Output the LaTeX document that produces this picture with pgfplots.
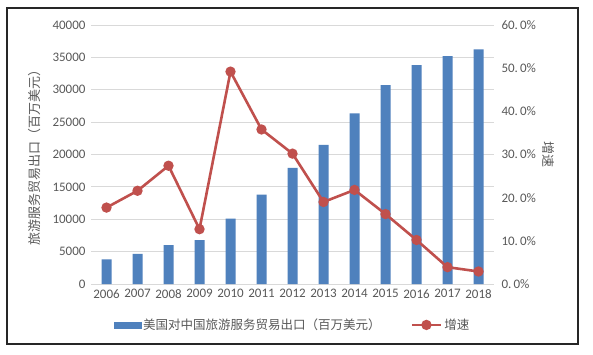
\documentclass[border=0pt]{standalone}
\usepackage{pgfplots}
\pgfplotsset{compat=1.18}
\usepackage{fontspec}
\setmainfont{Carlito}
\newfontfamily\cjk{Noto Sans CJK SC}
\definecolor{barblue}{HTML}{4F81BD}
\definecolor{linered}{HTML}{C0504D}
\definecolor{txtgray}{HTML}{595959}
\definecolor{gridgray}{HTML}{D9D9D9}
\pgfplotsset{
  mylineleg/.style={legend image code/.code={\draw[mark repeat=2,mark phase=2,##1] plot coordinates {(0pt,0pt) (14.5pt,0pt) (29pt,0pt)};}},
  mybarleg/.style={legend image code/.code={\fill[barblue] (0pt,-3pt) rectangle (27pt,3pt);}},
}
\begin{document}
\begin{tikzpicture}
\path[use as bounding box] (0pt,0pt) rectangle (593pt,354pt);
\fill[white] (0pt,0pt) rectangle (593pt,354pt);
\draw[black!85, line width=1.4pt] (7pt,10pt) rectangle (578pt,346pt);
\begin{axis}[
  at={(91pt,70pt)}, anchor=south west,
  scale only axis, width=403pt, height=259pt,
  xmin=-0.5, xmax=12.5, ymin=0, ymax=40000,
  xtick=data,
  xticklabels={2006,2007,2008,2009,2010,2011,2012,2013,2014,2015,2016,2017,2018},
  ytick={0,5000,...,40000},
  scaled y ticks=false,
  /pgf/number format/set thousands separator={},
  /pgf/number format/assume math mode=true,
  tick label style={font=\fontsize{13}{15}\selectfont, text=txtgray},
  axis y line*=left, axis x line*=bottom,
  y axis line style={draw=none},
  x axis line style={draw=gridgray, line width=1pt, -},
  major tick length=0pt,
  ymajorgrids, grid style={gridgray, line width=0.9pt},
  ylabel={\cjk 旅游服务贸易出口（百万美元）},
  ylabel style={at={(axis description cs:-0.139,0.5)}, anchor=center, font=\cjk\fontsize{13}{15}\selectfont, text=txtgray},
  xticklabel style={yshift=-2pt},
  yticklabel style={xshift=-2pt},
  clip=false,
]
\addplot[ybar, bar width=10pt, fill=barblue, draw=none] coordinates {
(0,3810) (1,4650) (2,6000) (3,6780) (4,10100) (5,13800) (6,17950) (7,21500) (8,26350) (9,30700) (10,33800) (11,35200) (12,36250)};
\end{axis}
\begin{axis}[
  at={(91pt,70pt)}, anchor=south west,
  scale only axis, width=403pt, height=259pt,
  xmin=-0.5, xmax=12.5, ymin=0, ymax=60,
  axis x line=none,
  axis y line*=right,
  y axis line style={draw=none},
  major tick length=0pt,
  ytick={0,10,...,60},
  yticklabels={0.\,0\%,10.\,0\%,20.\,0\%,30.\,0\%,40.\,0\%,50.\,0\%,60.\,0\%},
  yticklabel style={font=\fontsize{13}{15}\selectfont, text=txtgray, xshift=4pt},
  ylabel={\cjk 增速},
  ylabel style={at={(axis description cs:1.134,0.5)}, anchor=center, rotate=-180, font=\cjk\fontsize{13}{15}\selectfont, text=txtgray},
  legend style={at={(0.5,-0.158)}, anchor=center, draw=none, fill=none,
    legend columns=2, font=\cjk\fontsize{12.5}{14}\selectfont, text=txtgray,
    /tikz/every even column/.append style={column sep=28pt},
    inner sep=0pt},
  legend cell align=left,
  clip=false,
]
\addlegendimage{mybarleg}
\addlegendentry{美国对中国旅游服务贸易出口（百万美元）}
\addplot[color=linered, line width=2.6pt, mark=*, mark size=3.8pt, mark options={solid, fill=linered, draw=none}, mylineleg] coordinates {
(0,17.7) (1,21.6) (2,27.4) (3,12.7) (4,49.2) (5,35.8) (6,30.2) (7,19.0) (8,21.8) (9,16.2) (10,10.2) (11,3.9) (12,2.9)};
\addlegendentry{增速}
\end{axis}
\end{tikzpicture}
\end{document}
